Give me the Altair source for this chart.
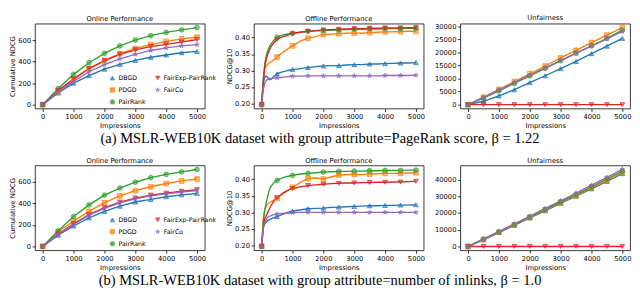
import altair as alt
import pandas as pd

# ---------------- data ----------------
METHODS = ["DBGD", "PDGD", "PairRank", "FairExp-PairRank", "FairCo"]
COLORS = {"DBGD": "#1f77b4", "PDGD": "#ff7f0e", "PairRank": "#2ca02c",
          "FairExp-PairRank": "#d62728", "FairCo": "#9467bd"}
STAR = ("M0,-1L0.2245,-0.309L0.951,-0.309L0.363,0.118L0.588,0.809L0,0.382"
        "L-0.588,0.809L-0.363,0.118L-0.951,-0.309L-0.2245,-0.309Z")
SHAPES = {"DBGD": "triangle-up", "PDGD": "square", "PairRank": "circle",
          "FairExp-PairRank": "triangle-down", "FairCo": STAR}

X_TICKS = [0, 1000, 2000, 3000, 4000, 5000]
X5 = [0, 500, 1000, 1500, 2000, 2500, 3000, 3500, 4000, 4500, 5000]
XD = [0, 50, 100, 150, 200, 250, 300, 400, 500, 600, 700, 800, 900, 1000,
      1250, 1500, 1750, 2000, 2250, 2500, 2750, 3000, 3250, 3500, 3750,
      4000, 4250, 4500, 4750, 5000]

# (a) PageRank score
online_a = {
    "DBGD": [0, 108, 200, 270, 330, 375, 411, 441, 462, 483, 495],
    "PDGD": [0, 126, 231, 336, 411, 474, 522, 558, 588, 612, 627],
    "PairRank": [0, 150, 282, 390, 477, 546, 600, 642, 672, 696, 717],
    "FairExp-PairRank": [0, 132, 240, 336, 408, 468, 510, 540, 561, 582, 606],
    "FairCo": [0, 120, 216, 306, 372, 426, 468, 504, 528, 546, 558],
}
offline_a = {
    "DBGD": [0.197, 0.262, 0.280, 0.283, 0.279, 0.272, 0.273, 0.283, 0.290, 0.294,
             0.297, 0.299, 0.301, 0.303, 0.306, 0.309, 0.312, 0.314, 0.315, 0.315,
             0.317, 0.318, 0.318, 0.320, 0.320, 0.321, 0.322, 0.323, 0.323, 0.324],
    "PDGD": [0.197, 0.270, 0.305, 0.314, 0.319, 0.323, 0.326, 0.333, 0.341, 0.349,
             0.356, 0.362, 0.369, 0.375, 0.389, 0.398, 0.403, 0.409, 0.410, 0.412,
             0.413, 0.414, 0.413, 0.415, 0.416, 0.417, 0.417, 0.418, 0.419, 0.419],
    "PairRank": [0.197, 0.270, 0.320, 0.345, 0.360, 0.372, 0.380, 0.392, 0.401, 0.405,
                 0.408, 0.410, 0.412, 0.413, 0.416, 0.419, 0.420, 0.421, 0.422, 0.423,
                 0.424, 0.425, 0.425, 0.426, 0.426, 0.427, 0.427, 0.427, 0.428, 0.428],
    "FairExp-PairRank": [0.197, 0.260, 0.310, 0.335, 0.350, 0.362, 0.372, 0.385, 0.394, 0.399,
                         0.403, 0.406, 0.409, 0.411, 0.416, 0.419, 0.421, 0.423, 0.424, 0.425,
                         0.426, 0.427, 0.427, 0.428, 0.428, 0.429, 0.429, 0.429, 0.430, 0.430],
    "FairCo": [0.197, 0.240, 0.262, 0.270, 0.274, 0.276, 0.276, 0.277, 0.278, 0.279,
               0.280, 0.281, 0.282, 0.283, 0.283, 0.284, 0.284, 0.284, 0.284, 0.284,
               0.284, 0.284, 0.284, 0.284, 0.284, 0.285, 0.285, 0.285, 0.285, 0.286],
}
unfair_a = {
    "DBGD": [0, 1300, 3360, 5720, 8460, 11070, 13800, 16540, 19530, 22390, 25370],
    "PDGD": [0, 2860, 5850, 8830, 11820, 14800, 17910, 20770, 23760, 26620, 29480],
    "PairRank": [0, 2500, 5300, 8100, 11000, 13900, 16800, 19700, 22500, 25400, 28500],
    "FairExp-PairRank": [0, 0, 0, 0, 0, 0, 0, 0, 0, 0, 0],
    "FairCo": [0, 2700, 5600, 8400, 11300, 14100, 16900, 19700, 22400, 25200, 28000],
}

# (b) number of inlinks
online_b = {
    "DBGD": [0, 105, 190, 266, 326, 374, 413, 437, 462, 480, 492],
    "PDGD": [0, 136, 235, 326, 407, 471, 519, 555, 585, 609, 627],
    "PairRank": [0, 145, 278, 386, 477, 543, 597, 640, 670, 694, 715],
    "FairExp-PairRank": [0, 115, 211, 296, 362, 413, 450, 477, 495, 513, 528],
    "FairCo": [0, 112, 205, 290, 355, 405, 442, 470, 488, 505, 520],
}
offline_b = {
    "DBGD": [0.197, 0.255, 0.265, 0.270, 0.275, 0.278, 0.280, 0.284, 0.287, 0.291,
             0.295, 0.298, 0.301, 0.304, 0.307, 0.311, 0.312, 0.313, 0.315, 0.316,
             0.317, 0.318, 0.319, 0.320, 0.320, 0.321, 0.321, 0.322, 0.322, 0.323],
    "PDGD": [0.197, 0.280, 0.310, 0.318, 0.325, 0.329, 0.332, 0.338, 0.342, 0.350,
             0.357, 0.363, 0.370, 0.376, 0.390, 0.403, 0.404, 0.401, 0.407, 0.413,
             0.414, 0.415, 0.414, 0.416, 0.417, 0.418, 0.418, 0.419, 0.419, 0.420],
    "PairRank": [0.197, 0.270, 0.305, 0.330, 0.350, 0.368, 0.378, 0.390, 0.397, 0.401,
                 0.405, 0.408, 0.410, 0.412, 0.416, 0.418, 0.420, 0.422, 0.423, 0.424,
                 0.424, 0.425, 0.425, 0.426, 0.426, 0.427, 0.427, 0.427, 0.428, 0.428],
    "FairExp-PairRank": [0.197, 0.250, 0.280, 0.290, 0.300, 0.310, 0.320, 0.335, 0.344, 0.352,
                         0.359, 0.364, 0.369, 0.372, 0.377, 0.381, 0.383, 0.385, 0.387, 0.388,
                         0.389, 0.389, 0.390, 0.390, 0.391, 0.391, 0.392, 0.392, 0.393, 0.394],
    "FairCo": [0.197, 0.250, 0.270, 0.278, 0.285, 0.288, 0.290, 0.293, 0.295, 0.296,
               0.297, 0.298, 0.298, 0.299, 0.300, 0.300, 0.300, 0.300, 0.300, 0.300,
               0.300, 0.300, 0.300, 0.300, 0.300, 0.300, 0.300, 0.300, 0.300, 0.300],
}
unfair_b = {
    "DBGD": [0, 4000, 8300, 12600, 17000, 21300, 25700, 30000, 34400, 38900, 43500],
    "PDGD": [0, 4200, 8500, 12900, 17300, 21700, 26100, 30500, 35000, 39500, 44100],
    "PairRank": [0, 4300, 8700, 13100, 17600, 22100, 26600, 31000, 35600, 40300, 45000],
    "FairExp-PairRank": [0, 0, 0, 0, 0, 0, 0, 0, 0, 0, 0],
    "FairCo": [0, 4500, 9000, 13500, 18100, 22700, 27300, 31900, 36600, 41300, 46100],
}

CAPTION_A = "(a) MSLR-WEB10K dataset with group attribute=PageRank score, β = 1.22"
CAPTION_B = "(b) MSLR-WEB10K dataset with group attribute=number of inlinks, β = 1.0"

ONLINE_TICKS = [0, 200, 400, 600]
OFFLINE_TICKS = [0.20, 0.25, 0.30, 0.35, 0.40]
UNFAIR_TICKS_A = [0, 5000, 10000, 15000, 20000, 25000, 30000]
UNFAIR_TICKS_B = [0, 10000, 20000, 30000, 40000]

FONT = "DejaVu Sans"
W, H = 176, 88


def to_df(series, xs):
    rows = []
    for m in METHODS:
        for xv, yv in zip(xs, series[m]):
            rows.append({"method": m, "x": xv, "y": yv, "marker": xv % 500 == 0})
    return pd.DataFrame(rows)


def panel(series, xs, title, ytitle, ydomain, yticks, yformat, show_legend):
    df = to_df(series, xs)
    if show_legend:
        leg = alt.Legend(title=None, orient="none", legendX=77, legendY=53,
                         columns=2, columnPadding=8, rowPadding=4.5,
                         labelFontSize=6.5, labelFont=FONT, labelColor="black",
                         symbolSize=22, symbolStrokeWidth=0.7, symbolOpacity=0.8,
                         labelOffset=3, padding=0)
    else:
        leg = None
    cscale = alt.Scale(domain=METHODS, range=[COLORS[m] for m in METHODS])
    sscale = alt.Scale(domain=METHODS, range=[SHAPES[m] for m in METHODS])
    x = alt.X("x:Q", scale=alt.Scale(domain=[-250, 5250], nice=False, zero=False),
              axis=alt.Axis(values=X_TICKS, format="d", title="Impressions"))
    y = alt.Y("y:Q", scale=alt.Scale(domain=ydomain, nice=False, zero=False),
              axis=alt.Axis(values=yticks, format=yformat, title=ytitle))
    base = alt.Chart(df)
    lines = base.mark_line(strokeWidth=1.4, clip=True).encode(
        x=x, y=y,
        color=alt.Color("method:N", scale=cscale, legend=leg),
        detail="method:N",
    )
    points = base.transform_filter("datum.marker").mark_point(
        filled=True, size=24, fillOpacity=0.55, strokeWidth=0.7, clip=True
    ).encode(
        x=x, y=y,
        color=alt.Color("method:N", scale=cscale, legend=leg),
        stroke=alt.Stroke("method:N", scale=cscale, legend=None),
        shape=alt.Shape("method:N", scale=sscale, legend=leg),
    )
    return alt.layer(lines, points).properties(
        width=W, height=H,
        title=alt.TitleParams(title, fontSize=7, font=FONT, fontWeight="normal",
                              color="black", offset=2),
    )


def row(online, offline, unfair, uticks, udomain, caption):
    p1 = panel(online, X5, "Online Performance", "Cumulative NDCG", [-36, 753],
               ONLINE_TICKS, "d", True)
    p2 = panel(offline, XD, "Offline Performance", "NDCG@10", [0.185, 0.442],
               OFFLINE_TICKS, ".2f", False)
    p3 = panel(unfair, X5, "Unfairness", None, udomain, uticks, "d", False)
    return alt.hconcat(p1, p2, p3, spacing=8).resolve_scale(
        x="independent", y="independent", color="independent",
        shape="independent", stroke="independent"
    ).properties(
        title=alt.TitleParams(caption, orient="bottom", anchor="middle",
                              font="Liberation Serif", fontSize=15,
                              fontWeight="normal", color="black", offset=3)
    )


row_a = row(online_a, offline_a, unfair_a, UNFAIR_TICKS_A, [-1480, 31000], CAPTION_A)
row_b = row(online_b, offline_b, unfair_b, UNFAIR_TICKS_B, [-2300, 48400], CAPTION_B)

chart = alt.vconcat(row_a, row_b, spacing=10).resolve_scale(
    x="independent", y="independent", color="independent",
    shape="independent", stroke="independent"
).properties(padding=0).configure_view(
    stroke="black", strokeWidth=0.8
).configure_axis(
    domain=False, grid=False, tickColor="black", tickSize=3, tickWidth=0.8,
    labelFontSize=7, labelFont=FONT, labelColor="black", labelPadding=1.5,
    titleFontSize=7, titleFont=FONT, titleFontWeight="normal", titleColor="black",
    titlePadding=2,
)

chart.save("out.html", embed_options={"renderer": "svg", "actions": False})
